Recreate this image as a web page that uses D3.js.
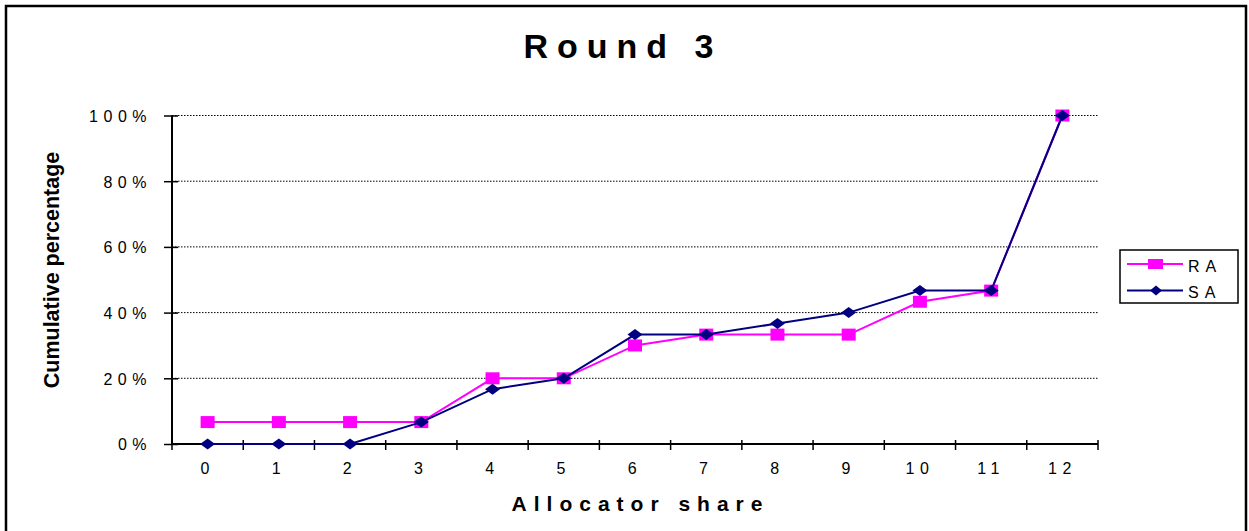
<!DOCTYPE html>
<html>
<head>
<meta charset="utf-8">
<script src="https://cdn.jsdelivr.net/npm/d3@7/dist/d3.min.js"></script>
<style>
  html, body { margin: 0; padding: 0; background: #fff; }
  svg { display: block; font-family: Arial, "Liberation Sans", sans-serif; }
</style>
</head>
<body>
<svg id="chart" width="1249" height="531"></svg>
<script>
const categories = ["0","1","2","3","4","5","6","7","8","9","10","11","12"];
const raValues = [0.0667, 0.0667, 0.0667, 0.0667, 0.20, 0.20, 0.30, 0.333, 0.333, 0.333, 0.433, 0.467, 1.00];
const saValues = [0.0, 0.0, 0.0, 0.0667, 0.167, 0.20, 0.333, 0.333, 0.367, 0.40, 0.467, 0.467, 1.00];
const yTickValues = [0, 0.2, 0.4, 0.6, 0.8, 1.0];
const yTickLabels = ["0%", "20%", "40%", "60%", "80%", "100%"];
const seriesNames = ["RA", "SA"];
const seriesColors = ["#FF00FF", "#000080"];
const chartTitle = "Round 3";
const xTitle = "Allocator share";
const yTitle = "Cumulative percentage";

(function () {
const svg = d3.select("#chart");
const pLeft = 172, pRight = 1098, pTop = 115.5, pBottom = 444;

const x = d3.scaleBand().domain(categories).range([pLeft, pRight]).padding(0);
const y = d3.scaleLinear().domain([0, 1]).range([pBottom, pTop]);

// outer frame
svg.append("path")
  .attr("d", "M6,540 L6,6 L1246,6 L1246,540")
  .attr("fill", "none").attr("stroke", "#000").attr("stroke-width", 2.5);

// gridlines
svg.append("g").selectAll("line")
  .data(yTickValues.filter(v => v > 0))
  .join("line")
  .attr("x1", pLeft).attr("x2", pRight)
  .attr("y1", d => y(d)).attr("y2", d => y(d))
  .attr("stroke", "#000").attr("stroke-width", 1)
  .attr("stroke-dasharray", "1.5,1.5");

// y axis
const yAxis = svg.append("g")
  .attr("transform", `translate(${pLeft},0)`)
  .call(d3.axisLeft(y).tickValues(yTickValues).tickSize(8)
        .tickFormat((d, i) => yTickLabels[i]));
yAxis.select(".domain").attr("stroke", "#000").attr("stroke-width", 2).attr("d", `M0,${pBottom}V${pTop}`);
yAxis.selectAll(".tick line").attr("x1", 6).attr("x2", -8).attr("stroke", "#000").attr("stroke-width", 1.5);
yAxis.selectAll(".tick text")
  .attr("x", -20).attr("dy", "0.37em")
  .style("font-size", "16px").style("letter-spacing", "5.5px")
  .attr("fill", "#000").attr("text-anchor", "end");

// x axis
const xAxis = svg.append("g")
  .attr("transform", `translate(0,${pBottom})`)
  .call(d3.axisBottom(x).tickSize(0));
xAxis.select(".domain").attr("stroke", "#000").attr("stroke-width", 2).attr("d", `M${pLeft},0H${pRight}`);
xAxis.selectAll(".tick text")
  .attr("y", 30).attr("dy", 0)
  .style("font-size", "16px").style("letter-spacing", "5.5px")
  .attr("fill", "#000");
// tick marks at band boundaries
const bounds = categories.map(c => x(c)).concat([x(categories[categories.length - 1]) + x.bandwidth()]);
svg.append("g").selectAll("line")
  .data(bounds)
  .join("line")
  .attr("x1", d => d).attr("x2", d => d)
  .attr("y1", pBottom - 4).attr("y2", pBottom + 6)
  .attr("stroke", "#000").attr("stroke-width", 1.5);

// series
const cx = c => x(c) + x.bandwidth() / 2;
const line = d3.line().x((d, i) => cx(categories[i])).y(d => y(d));

svg.append("path").datum(raValues)
  .attr("d", line).attr("fill", "none")
  .attr("stroke", seriesColors[0]).attr("stroke-width", 2);
svg.append("g").selectAll("rect")
  .data(raValues).join("rect")
  .attr("x", (d, i) => cx(categories[i]) - 7)
  .attr("y", d => y(d) - 6)
  .attr("width", 14).attr("height", 12)
  .attr("fill", seriesColors[0]);

svg.append("path").datum(saValues)
  .attr("d", line).attr("fill", "none")
  .attr("stroke", seriesColors[1]).attr("stroke-width", 2);
const diamond = (px, py, w, h) => `M${px},${py - h/2}L${px + w/2},${py}L${px},${py + h/2}L${px - w/2},${py}Z`;
svg.append("g").selectAll("path")
  .data(saValues).join("path")
  .attr("d", (d, i) => diamond(cx(categories[i]), y(d), 15, 11))
  .attr("fill", seriesColors[1]);

// title
svg.append("text")
  .attr("x", 623).attr("y", 58)
  .attr("text-anchor", "middle")
  .style("font-size", "34px").style("font-weight", "bold").style("letter-spacing", "9px")
  .text(chartTitle);

// axis titles
svg.append("text")
  .attr("x", 640.5).attr("y", 510.5)
  .attr("text-anchor", "middle")
  .style("font-size", "21px").style("font-weight", "bold").style("letter-spacing", "7px")
  .text(xTitle);

svg.append("text")
  .attr("transform", "translate(59,270) rotate(-90)")
  .attr("text-anchor", "middle")
  .style("font-size", "21.5px").style("font-weight", "bold")
  .text(yTitle);

// legend
const lg = svg.append("g");
lg.append("rect").attr("x", 1120).attr("y", 250).attr("width", 118).attr("height", 53)
  .attr("fill", "#fff").attr("stroke", "#000").attr("stroke-width", 1.5);
const legendY = [264, 290.5];
seriesNames.forEach((name, i) => {
  lg.append("line").attr("x1", 1127).attr("x2", 1183)
    .attr("y1", legendY[i]).attr("y2", legendY[i])
    .attr("stroke", seriesColors[i]).attr("stroke-width", 2);
  if (i === 0) {
    lg.append("rect").attr("x", 1148).attr("y", legendY[i] - 5).attr("width", 15).attr("height", 10)
      .attr("fill", seriesColors[i]);
  } else {
    lg.append("path").attr("d", diamond(1156, legendY[i], 12, 10)).attr("fill", seriesColors[i]);
  }
  lg.append("text").attr("x", 1188).attr("y", legendY[i] + 7.5)
    .style("font-size", "16px").style("letter-spacing", "6px")
    .text(name);
});
})();
</script>
</body>
</html>
